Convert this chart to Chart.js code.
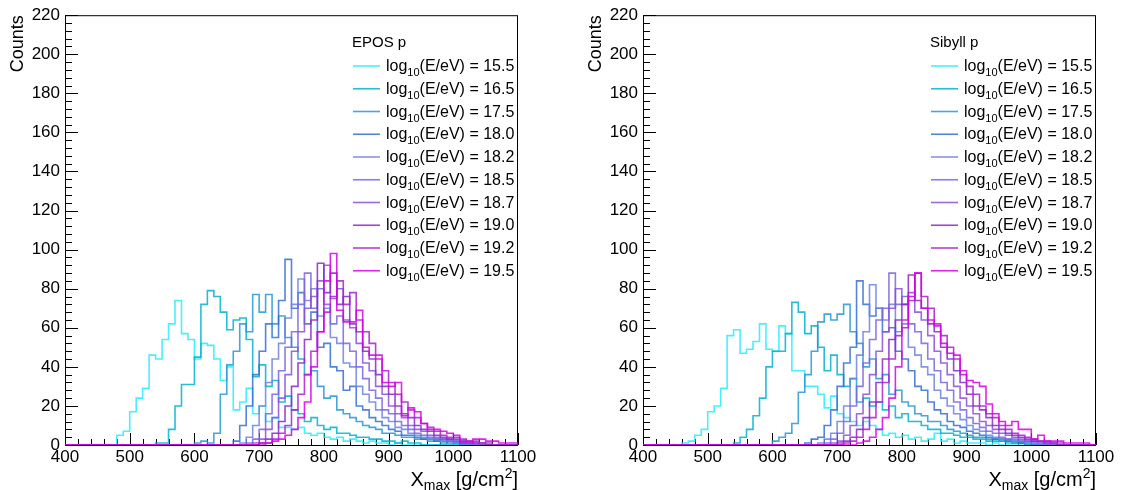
<!DOCTYPE html>
<html>
<head>
<meta charset="utf-8">
<script src="https://cdn.jsdelivr.net/npm/chart.js@4.4.1/dist/chart.umd.min.js"></script>
<style>
  body { margin: 0; background: #fff; }
  #wrap { position: relative; width: 1121px; height: 490px; }
  canvas { position: absolute; top: 0; }
  #c1 { left: 0; }
  #c2 { left: 578px; }
</style>
</head>
<body>
<div id="wrap">
  <canvas id="c1" width="560" height="490"></canvas>
  <canvas id="c2" width="543" height="490"></canvas>
</div>
<script>
// === Xmax histograms, EPOS vs Sibyll (proton) ===

// bins: 70 bins of 10 g/cm2 from 400 to 1100
const binLow = 400;
const binWidth = 10;
const energies = ['15.5', '16.5', '17.5', '18.0', '18.2', '18.5', '18.7', '19.0', '19.2', '19.5'];
const lineColors = [
  'rgba(40,236,255,0.85)', 'rgba(0,178,206,0.85)', 'rgba(40,150,212,0.85)', 'rgba(52,110,212,0.85)',
  'rgba(112,130,226,0.85)', 'rgba(122,100,224,0.85)', 'rgba(140,80,216,0.85)', 'rgba(138,40,200,0.85)',
  'rgba(172,30,208,0.85)', 'rgba(214,0,230,0.85)'
];

// EPOS p
const epos155 = [0,0,0,0,0,0,0,0,5,7, 17,24,29,46,44,54,62,74,57,54, 44,52,51,44,33,40,18,22,29,16, 20,12,14,9,9,8,9,6,5,6, 4,3,4,2,3,2,1,2,1,1, 0,1,0,0,0,0,0,0,0,0, 0,0,0,0,0,0,0,0,0,0];
const epos165 = [0,0,0,0,0,0,0,0,0,0, 0,0,0,0,1,1,8,20,31,31, 45,72,79,76,68,59,64,65,54,35, 41,30,33,22,25,18,16,12,14,10, 8,9,6,6,5,4,4,3,3,2, 2,1,2,1,1,0,0,0,0,0, 0,0,0,0,0,0,0,0,0,0];
const epos175 = [0,0,0,0,0,0,0,0,0,0, 0,0,0,0,0,0,0,0,0,0, 1,2,1,6,26,41,48,62,58,77, 68,77,62,66,55,50,44,36,38,30, 24,25,18,16,14,12,10,9,8,6, 6,5,4,4,3,3,2,2,1,2, 1,1,0,0,0,0,0,0,0,0];
const epos180 = [0,0,0,0,0,0,0,0,0,0, 0,0,0,0,0,0,0,0,0,0, 0,0,0,0,0,0,2,10,20,36, 48,62,55,74,95,70,78,62,68,50, 52,40,38,28,30,20,18,14,12,10, 8,7,5,5,4,3,3,2,2,1, 1,0,0,0,0,0,0,0,0,0];
const epos182 = [0,0,0,0,0,0,0,0,0,0, 0,0,0,0,0,0,0,0,0,0, 0,0,0,0,0,0,0,1,4,10, 20,32,44,52,65,72,85,74,80,66, 70,55,52,42,40,30,26,22,18,14, 12,9,8,6,5,4,3,3,2,2, 1,1,0,0,0,0,0,0,0,0];
const epos185 = [0,0,0,0,0,0,0,0,0,0, 0,0,0,0,0,0,0,0,0,0, 0,0,0,0,0,0,0,0,1,3, 8,16,26,38,50,58,72,88,70,80, 72,62,66,52,48,40,34,28,24,18, 16,12,10,8,6,5,4,3,3,2, 2,1,1,0,0,0,0,0,0,0];
const epos187 = [0,0,0,0,0,0,0,0,0,0, 0,0,0,0,0,0,0,0,0,0, 0,0,0,0,0,0,0,0,0,1, 3,8,14,24,36,48,58,70,76,84, 92,75,80,64,60,52,42,38,30,26, 20,16,14,10,8,7,5,4,3,3, 2,2,1,1,0,0,0,0,0,0];
const epos190 = [0,0,0,0,0,0,0,0,0,0, 0,0,0,0,0,0,0,0,0,0, 0,0,0,0,0,0,0,0,0,0, 1,3,6,12,20,30,42,54,64,93, 78,88,72,76,62,58,48,44,36,30, 26,20,16,14,10,8,7,5,4,3, 3,2,2,1,1,0,0,0,0,0];
const epos192 = [0,0,0,0,0,0,0,0,0,0, 0,0,0,0,0,0,0,0,0,0, 0,0,0,0,0,0,0,0,0,0, 1,1,3,6,10,18,26,36,48,58, 68,76,84,72,78,64,58,52,46,38, 32,26,22,18,14,11,9,7,5,4, 4,3,2,2,1,1,0,0,0,0];
const epos195 = [0,0,0,0,0,0,0,0,0,0, 0,0,0,0,0,0,0,0,0,0, 0,0,0,0,0,0,0,0,0,0, 0,1,2,3,5,8,14,22,40,58, 84,98,69,63,63,69,50,46,44,32, 30,32,15,19,17,11,8,8,7,6, 5,1,1,3,3,2,2,1,1,1];

// Sibyll p
const sib155 = [0,0,0,0,0,0,1,2,5,8, 17,20,29,56,59,47,49,53,62,49, 48,61,57,38,38,30,30,26,19,25, 16,14,12,10,12,10,8,5,6,4, 5,3,4,2,3,6,2,3,1,2, 1,1,1,0,1,0,0,0,0,0, 0,0,0,0,0,0,0,0,0,0];
const sib165 = [0,0,0,0,0,0,0,0,0,0, 0,0,0,0,1,4,8,15,24,40, 48,48,57,73,68,57,61,50,38,46, 36,30,34,22,24,20,22,18,20,14, 16,12,12,10,8,8,6,6,5,4, 4,3,3,2,2,2,1,1,1,0, 0,0,0,0,0,0,0,0,0,0];
const sib175 = [0,0,0,0,0,0,0,0,0,0, 0,0,0,0,0,0,0,0,0,0, 2,4,6,11,27,36,48,63,67,64, 67,72,58,52,40,44,34,36,26,28, 22,20,16,15,12,12,10,8,7,6, 5,4,4,3,3,2,2,1,1,0, 0,0,0,0,0,0,0,0,0,0];
const sib180 = [0,0,0,0,0,0,0,0,0,0, 0,0,0,0,0,0,0,0,0,0, 0,0,0,0,0,1,3,4,10,18, 30,42,50,84,72,66,70,58,60,48, 44,38,30,28,22,18,16,12,10,9, 7,6,5,4,3,3,2,2,1,1, 0,0,0,0,0,0,0,0,0,0];
const sib182 = [0,0,0,0,0,0,0,0,0,0, 0,0,0,0,0,0,0,0,0,0, 0,0,0,0,0,0,0,1,3,6, 12,20,34,46,58,82,70,64,72,58, 62,50,46,40,36,28,24,20,16,13, 10,8,7,5,4,3,3,2,2,1, 1,0,0,0,0,0,0,0,0,0];
const sib185 = [0,0,0,0,0,0,0,0,0,0, 0,0,0,0,0,0,0,0,0,0, 0,0,0,0,0,0,0,0,1,3, 6,12,20,30,42,54,64,70,88,72, 76,62,58,52,44,38,32,28,22,18, 14,11,9,7,6,4,3,3,2,2, 1,1,0,0,0,0,0,0,0,0];
const sib187 = [0,0,0,0,0,0,0,0,0,0, 0,0,0,0,0,0,0,0,0,0, 0,0,0,0,0,0,0,0,0,1, 2,5,10,16,26,36,48,58,70,80, 72,78,68,64,56,48,42,36,30,24, 20,16,12,10,8,6,5,4,3,2, 2,1,1,0,0,0,0,0,0,0];
const sib190 = [0,0,0,0,0,0,0,0,0,0, 0,0,0,0,0,0,0,0,0,0, 0,0,0,0,0,0,0,0,0,0, 1,2,4,8,14,22,32,44,54,64, 72,87,74,70,62,58,50,44,38,32, 26,20,18,14,10,8,6,5,4,3, 2,2,1,1,0,0,0,0,0,0];
const sib192 = [0,0,0,0,0,0,0,0,0,0, 0,0,0,0,0,0,0,0,0,0, 0,0,0,0,0,0,0,0,0,0, 0,1,2,4,8,14,22,32,44,56, 64,74,88,76,70,62,56,50,44,36, 30,26,20,16,14,10,8,6,5,4, 3,2,2,1,1,0,0,0,0,0];
const sib195 = [0,0,0,0,0,0,0,0,0,0, 0,0,0,0,0,0,0,0,0,0, 0,0,0,0,0,0,0,0,0,0, 0,0,0,1,2,4,8,14,24,40, 60,76,88,70,64,61,52,47,46,38, 33,32,30,21,16,12,10,12,8,8, 3,5,2,2,2,1,1,1,1,0];

const eposSeries = [epos155, epos165, epos175, epos180, epos182, epos185, epos187, epos190, epos192, epos195];
const sibSeries = [sib155, sib165, sib175, sib180, sib182, sib185, sib187, sib190, sib192, sib195];

const font = "'Liberation Sans', Arial, sans-serif";

// bin contents -> step points on the bin edges
function toSteps(vals) {
  const pts = vals.map((v, i) => ({ x: binLow + i * binWidth, y: v }));
  pts.push({ x: binLow + vals.length * binWidth, y: vals[vals.length - 1] });
  return pts;
}

// frame, inward ticks, axis titles and the legend box, ROOT style
const rootDecor = {
  id: 'rootDecor',
  beforeDatasetsDraw(chart) {
    const ctx = chart.ctx;
    const a = chart.chartArea;
    const xs = chart.scales.x, ys = chart.scales.y;
    ctx.save();
    ctx.strokeStyle = '#000';
    ctx.lineWidth = 1;
    ctx.strokeRect(a.left + 0.5, a.top + 0.5, a.right - a.left - 1, a.bottom - a.top);

    ctx.beginPath();
    for (let v = xs.min; v <= xs.max; v += 20) {
      const px = Math.round(xs.getPixelForValue(v)) + 0.5;
      const len = v % 100 === 0 ? 12 : 6;
      ctx.moveTo(px, a.bottom);
      ctx.lineTo(px, a.bottom - len);
    }
    for (let v = ys.min; v <= ys.max; v += 4) {
      const py = Math.round(ys.getPixelForValue(v)) + 0.5;
      const len = v % 20 === 0 ? 13 : 7;
      ctx.moveTo(a.left, py);
      ctx.lineTo(a.left + len, py);
    }
    ctx.stroke();
    ctx.restore();
  },
  afterDraw(chart, args, opts) {
    const ctx = chart.ctx;
    const a = chart.chartArea;
    ctx.save();

    // y title
    ctx.fillStyle = '#000';
    ctx.font = '18px ' + font;
    ctx.save();
    ctx.translate(18, a.top);
    ctx.rotate(-Math.PI / 2);
    ctx.textAlign = 'right';
    ctx.textBaseline = 'middle';
    ctx.fillText('Counts', 0, 0);
    ctx.restore();

    // x title: X_max [g/cm^2]
    const parts = [
      ['X', 20, 0], ['max', 14, 4], [' [g/cm', 20, 0], ['2', 14, -8], [']', 20, 0]
    ];
    let total = 0;
    parts.forEach(p => { ctx.font = p[1] + 'px ' + font; total += ctx.measureText(p[0]).width; });
    let cx = a.right - total;
    ctx.textAlign = 'left';
    ctx.textBaseline = 'alphabetic';
    parts.forEach(p => {
      ctx.font = p[1] + 'px ' + font;
      ctx.fillText(p[0], cx, 486 + p[2]);
      cx += ctx.measureText(p[0]).width;
    });

    // legend
    ctx.font = '15px ' + font;
    ctx.fillText(opts.header, opts.x, 47);
    energies.forEach((e, i) => {
      const y = 66 + i * 22.75;
      ctx.strokeStyle = lineColors[i];
      ctx.lineWidth = 1.6;
      ctx.beginPath();
      ctx.moveTo(opts.x + 1, y);
      ctx.lineTo(opts.x + 28, y);
      ctx.stroke();
      let tx = opts.x + 34;
      ctx.font = '16px ' + font;
      ctx.fillText('log', tx, y + 5);
      tx += ctx.measureText('log').width;
      ctx.font = '11px ' + font;
      ctx.fillText('10', tx, y + 10);
      tx += ctx.measureText('10').width;
      ctx.font = '16px ' + font;
      ctx.fillText('(E/eV) = ' + e, tx, y + 5);
    });
    ctx.restore();
  }
};

function makeChart(id, seriesList, header, legendX) {
  const canvas = document.getElementById(id);
  return new Chart(canvas.getContext('2d'), {
    type: 'line',
    data: {
      datasets: seriesList.map((vals, i) => ({
        label: 'log10(E/eV) = ' + energies[i],
        data: toSteps(vals),
        stepped: 'before',
        borderColor: lineColors[i],
        borderWidth: 1.6,
        pointRadius: 0,
        fill: false,
        order: seriesList.length - i
      }))
    },
    options: {
      responsive: false,
      animation: false,
      devicePixelRatio: 1,
      layout: { padding: { left: 0, right: canvas.width - 518, top: 13, bottom: 0 } },
      plugins: {
        legend: { display: false },
        tooltip: { enabled: false },
        rootDecor: { header: header, x: legendX }
      },
      scales: {
        x: {
          type: 'linear', min: 400, max: 1100,
          grid: { display: false, drawTicks: false },
          border: { display: false },
          ticks: { stepSize: 100, color: '#000', padding: 2, maxRotation: 0, font: { family: font, size: 17 },
                   callback: v => String(v) },
          afterFit: s => { s.height = 45; }
        },
        y: {
          min: 0, max: 220,
          grid: { display: false, drawTicks: false },
          border: { display: false },
          ticks: { stepSize: 20, color: '#000', padding: 5, font: { family: font, size: 17 },
                   callback: v => String(v) },
          afterFit: s => { s.width = 65; }
        }
      }
    },
    plugins: [rootDecor]
  });
}

makeChart('c1', eposSeries, 'EPOS p', 352);
makeChart('c2', sibSeries, 'Sibyll p', 352);
</script>
</body>
</html>
